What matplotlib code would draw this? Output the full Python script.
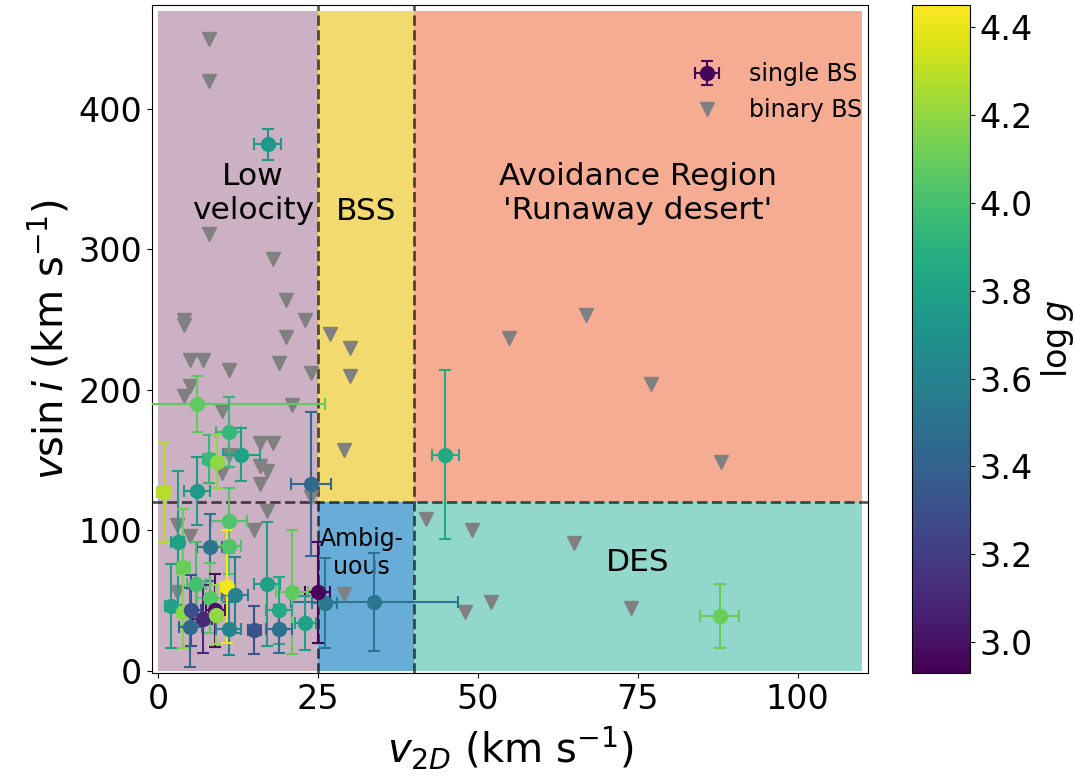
import numpy as np
import matplotlib
matplotlib.use("Agg")
import matplotlib.pyplot as plt
from matplotlib.colors import Normalize

# single blue stragglers: v2D, vsini, errors, logg
single_v2d = [17.1, 44.9, 87.8, 33.8, 26.0, 24.9, 23.9, 6.0, 11.0, 13.0, 7.9, 9.1, 0.8,
              6.0, 11.0, 3.0, 8.0, 11.0, 3.9, 5.9, 8.0, 2.0, 3.9, 5.1, 6.9, 8.9, 9.0,
              5.0, 11.0, 10.8, 12.0, 15.0, 17.0, 20.9, 18.9, 18.9, 23.0]
single_vsini = [375, 154, 39, 49, 48, 56, 133, 190, 170, 154, 151, 149, 127,
                128, 107, 92, 88, 89, 74, 62, 52, 46, 42, 43, 37, 43, 40,
                31, 30, 60, 54, 29, 62, 56, 43, 30, 34]
single_v2d_err = [2.1, 2.1, 3.1, 13.1, 1.9, 2.0, 3.1, 20, 2.0, 2.9, 1.0, 1.0, 1.0,
                  2.0, 2.8, 1.0, 2.0, 2.0, 1.0, 1.5, 2.0, 1.0, 1.0, 1.5, 1.5, 1.5, 1.0,
                  1.8, 2.0, 1.0, 2.0, 1.0, 2.0, 2.5, 2.0, 2.0, 1.6]
single_vsini_err = [11, 60, 23, 35, 32, 36, 51, 20, 25, 19, 17, 19, 36,
                    24, 23, 50, 24, 20, 41, 30, 25, 30, 26, 25, 24, 26, 21,
                    28, 19, 40, 27, 17, 44, 44, 24, 17, 19]
single_logg = [3.75, 3.85, 4.1, 3.52, 3.55, 2.95, 3.45, 4.08, 3.95, 3.8, 3.95, 4.2, 4.28,
               3.75, 4.03, 3.78, 3.52, 4.03, 4.1, 4.0, 4.05, 3.8, 4.18, 3.3, 3.1, 3.0, 4.2,
               3.45, 3.62, 4.43, 3.6, 3.32, 3.78, 4.08, 3.85, 3.5, 3.8]

# binary blue stragglers
binary_v2d = [7.9, 7.9, 7.9, 17.9, 19.9, 22.9, 4.0, 4.0, 19.9, 26.9, 30.0, 5.0, 6.9, 18.9,
              11.0, 23.9, 30.0, 5.0, 4.0, 20.9, 9.9, 15.9, 17.9, 29.0, 11.0, 15.9, 17.0,
              9.9, 15.9, 23.9, 17.0, 41.9, 2.9, 15.0, 49.0, 5.0, 65.0, 2.9, 29.0, 10.7,
              52.0, 73.9, 48.0, 54.9, 66.9, 77.0, 88.0]
binary_vsini = [450, 420, 311, 293, 264, 250, 250, 246, 238, 240, 230, 221, 221, 219,
                214, 212, 210, 203, 196, 189, 185, 162, 162, 157, 154, 146, 142,
                141, 133, 124, 114, 108, 104, 100, 100, 96, 91, 56, 55, 52,
                49, 45, 42, 237, 253, 204, 149]

fig = plt.figure(figsize=(10.75, 7.78), dpi=100)
ax = fig.add_axes([0.1414, 0.135, 0.666, 0.8586])
cax = fig.add_axes([0.8484, 0.135, 0.054, 0.8586])

# background regions
ax.fill_between([0, 25], 120, 470, color='#CCB0C4', zorder=0, lw=0)
ax.fill_between([0, 25], 0, 120, color='#CCB0C4', zorder=0, lw=0)
ax.fill_between([25, 40], 120, 470, color='#F2DA6E', zorder=0, lw=0)
ax.fill_between([25, 40], 0, 120, color='#68ACD8', zorder=0, lw=0)
ax.fill_between([40, 110], 120, 470, color='#F6AC92', zorder=0, lw=0)
ax.fill_between([40, 110], 0, 120, color='#91D7CC', zorder=0, lw=0)

ax.axvline(25, color='k', ls='--', lw=2, alpha=0.65, zorder=1)
ax.axvline(40, color='k', ls='--', lw=2, alpha=0.65, zorder=1)
ax.axhline(120, color='k', ls='--', lw=2, alpha=0.65, zorder=1)

ax.text(14.8, 340, 'Low\nvelocity', ha='center', va='center', fontsize=22.5)
ax.text(32.5, 327, 'BSS', ha='center', va='center', fontsize=22.5)
ax.text(75, 340, "Avoidance Region\n'Runaway desert'", ha='center', va='center', fontsize=22.5)
ax.text(31.8, 84, 'Ambig-\nuous', ha='center', va='center', fontsize=17)
ax.text(75, 77, 'DES', ha='center', va='center', fontsize=22.5)

cmap = plt.get_cmap('viridis')
norm = Normalize(vmin=2.93, vmax=4.45)

tri, = ax.plot(binary_v2d, binary_vsini, 'v', color='gray', ms=10, ls='none', zorder=2)

handle_single = None
for i in range(len(single_v2d)):
    c = cmap(norm(single_logg[i]))
    eb = ax.errorbar(single_v2d[i], single_vsini[i], xerr=single_v2d_err[i],
                     yerr=single_vsini_err[i], fmt='o', color=c, ms=10,
                     capsize=4, elinewidth=1.5, capthick=1.5, zorder=3)
    if single_logg[i] == min(single_logg):
        handle_single = eb

ax.legend([handle_single, tri], ['single BS', 'binary BS'], loc='upper right',
          bbox_to_anchor=(1.022, 0.946), frameon=False, fontsize=17)

ax.set_xlim(-1, 111)
ax.set_ylim(-1.5, 474)
ax.set_xticks([0, 25, 50, 75, 100])
ax.set_yticks([0, 100, 200, 300, 400])
ax.tick_params(labelsize=24)
ax.set_xlabel('$v_{2D}$ (km s$^{-1}$)', fontsize=29, labelpad=6)
ax.set_ylabel('$v \\sin i$ (km s$^{-1}$)', fontsize=29)

sm = plt.cm.ScalarMappable(norm=norm, cmap=cmap)
cb = fig.colorbar(sm, cax=cax)
cb.set_ticks([3.0, 3.2, 3.4, 3.6, 3.8, 4.0, 4.2, 4.4])
cb.ax.tick_params(labelsize=24)
cb.set_label('$\\log g$', fontsize=24)

fig.savefig('out.png', dpi=100)
